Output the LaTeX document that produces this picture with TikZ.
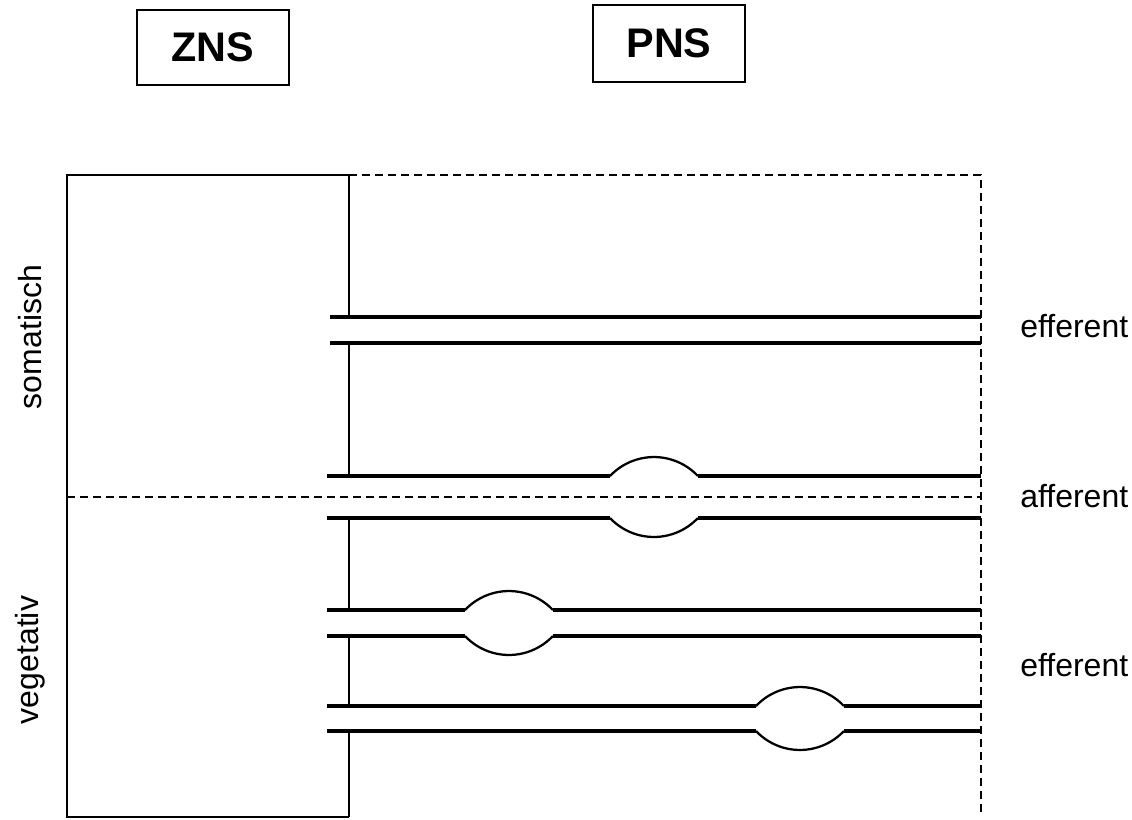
\documentclass[tikz,border=0pt]{standalone}
\usepackage{fontspec}
\setmainfont{Liberation Sans}
\newcommand{\xzns}{349}
\newcommand{\xend}{981}

\tikzset{
  fibre/.style={line width=2.5pt},
  ganglion/.style={line width=1.7pt},
  border/.style={line width=1.2pt},
  frame/.style={line width=0.9pt, dash pattern=on 6pt off 3.75pt},
  boxlabel/.style={draw, line width=1.1pt, font=\fontsize{31}{36}\selectfont\bfseries, minimum width=114pt, inner sep=0pt},
  sidelabel/.style={font=\fontsize{24}{28}\selectfont, inner sep=0pt},
}

\begin{document}
\begin{tikzpicture}[x=0.75pt, y=-0.75pt]
\useasboundingbox (0,0) rectangle (1132,819);

\node[boxlabel, minimum height=56pt] (zns) at (213,47.5) {ZNS};
\node[boxlabel, minimum height=58pt] (pns) at (669,43.5) {PNS};

% frame
\draw[frame] (\xzns,175) -- (\xend,175) -- (\xend,817);
\draw[frame] (67,497) -- (\xend,497);
\draw[border] (\xzns,175) -- (67,175) -- (67,817) -- (\xzns,817);
\foreach \ya/\yb in {175/317, 343/476, 518/610, 636/706, 731/817} {
  \draw[border] (\xzns,\ya) -- (\xzns,\yb);
}

% fibres: start x / upper y / lower y / ganglion x
\foreach \xs/\ya/\yb/\xg in {330/317/343/0, 327/476/518/654, 327/610/636/509, 327/706/731/800} {
  \ifnum\xg>0
    \draw[fibre] (\xs,\ya) -- (\xg-44,\ya);
    \draw[fibre] (\xs,\yb) -- (\xg-44,\yb);
    \draw[ganglion] (\xg-44,\ya) arc[start angle=223.3, end angle=316.7, radius=60.4];
    \draw[ganglion] (\xg-44,\yb) arc[start angle=136.7, end angle=43.3, radius=60.4];
    \draw[fibre] (\xg+44,\ya) -- (\xend,\ya);
    \draw[fibre] (\xg+44,\yb) -- (\xend,\yb);
  \else
    \draw[fibre] (\xs,\ya) -- (\xend,\ya);
    \draw[fibre] (\xs,\yb) -- (\xend,\yb);
  \fi
}

\node[sidelabel, anchor=base west] (eff1) at (1020,337) {efferent};
\node[sidelabel, anchor=base west] (aff) at (1020,507) {afferent};
\node[sidelabel, anchor=base west] (eff2) at (1020,676) {efferent};
\node[sidelabel, rotate=90] (som) at (30,337) {somatisch};
\node[sidelabel, rotate=90] (veg) at (30,660) {vegetativ};

\end{tikzpicture}
\end{document}
